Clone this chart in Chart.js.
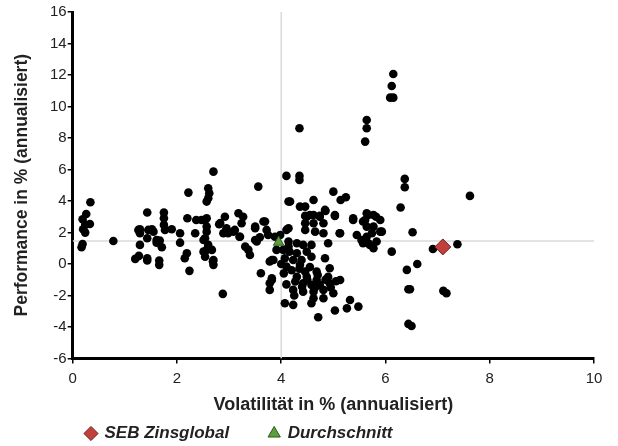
<!DOCTYPE html>
<html>
<head>
<meta charset="utf-8">
<style>
  html, body { margin: 0; padding: 0; background: #fff; }
  #wrap { width: 618px; height: 446px; }
</style>
</head>
<body>
<div id="wrap"><canvas id="myChart" width="618" height="446"></canvas></div>

<script src="https://cdn.jsdelivr.net/npm/chart.js"></script>
<script>
    // Vergleichsfonds: Volatilität / Performance (annualisiert)
    const peerVol = [
        0.34, 0.26, 0.19, 0.33, 0.24, 0.2, 0.24, 0.19, 0.17, 0.78,
        1.43, 1.29, 1.29, 1.52, 1.55, 1.43, 1.29, 1.27, 1.2, 1.43, 1.43, 1.66, 1.66, 1.75, 1.75, 1.75, 1.77, 1.67, 1.71, 1.61, 1.9, 1.45, 1.61, 1.26,
        2.06, 2.06, 2.22, 2.2, 2.35, 2.19, 2.15, 2.24, 2.37, 2.47,
        2.7, 2.6, 2.62, 2.6, 2.57, 2.54, 2.57, 2.57, 2.54, 2.6, 2.57, 2.67, 2.54, 2.7, 2.7, 2.51, 2.51, 2.69, 2.57,
        2.83, 2.92, 2.95, 2.98, 3.11, 3.18, 3.27, 3.24, 3.2, 3.31, 3.37, 3.4, 3.5, 3.5, 2.89, 2.88, 3.08, 3.21, 2.81, 3.5,
        3.56, 3.66, 3.72, 3.75, 3.59, 3.82, 3.61, 3.82, 3.78, 3.78, 3.91, 3.53, 3.69, 3.78, 3.85, 3.98, 3.88, 3.82,
        4.1, 4.14, 4.1, 4.14, 4.35, 4.35, 4.35, 4.17, 4.36, 4.46, 4.46, 4.14, 4.14, 4.3, 4.42, 4.04, 4.16, 4.3, 4.49, 4.07, 4.23, 4.39, 4.1, 4.36, 4.46, 4.3, 4.49, 4.27, 4.42, 4.23, 4.42, 4.07, 4.23, 4.46, 4.46, 4.49,
        4.55, 4.74, 4.84, 4.62, 4.62, 4.74, 4.62, 4.81, 4.65, 4.81, 4.58, 4.9, 4.58, 4.84, 4.68, 4.93, 4.68, 4.9, 4.58, 4.74, 4.93, 4.62, 4.81, 4.62, 4.81, 4.58, 4.71, 4.85, 5.0,
        4.2, 4.55, 4.4, 4.65, 4.85, 4.1, 4.05, 4.25, 4.95, 5.05, 4.5, 4.7, 4.35, 4.0,
        5.0, 5.14, 5.24, 5.03, 5.03, 5.38, 5.38, 5.13, 5.45, 5.13, 5.32, 5.26, 5.48, 5.03, 5.12,
        5.64, 5.64, 5.61, 5.64, 5.57, 5.64, 5.67, 5.77, 5.61, 5.9, 5.64, 5.74, 5.9, 5.54, 5.67, 5.77, 5.83, 5.82, 5.77, 5.93, 5.57, 5.7,
        6.15, 6.12, 6.09, 6.15, 6.37, 6.37, 6.29, 7.62, 6.52, 6.12, 6.91, 7.38, 6.61, 6.41, 6.47, 6.44, 7.11, 7.17, 6.44, 6.5
    ];
    const peerPerf = [
        3.92, 3.17, 2.84, 2.54, 2.48, 2.2, 1.99, 1.27, 1.06, 1.46,
        3.27, 2.2, 1.95, 2.2, 2.05, 1.63, 1.21, 0.51, 0.32, 0.36, 0.22, 0.21, -0.06, 3.26, 2.9, 2.48, 2.16, 1.48, 1.06, 1.35, 2.2, 2.16, 1.52, 2.16,
        1.95, 1.35, 4.53, 2.9, 1.95, 0.68, 0.36, -0.44, 2.79, 2.79,
        5.86, 4.81, 4.49, 4.17, 3.96, 2.79, 2.37, 2.05, 1.63, 1.21, 0.89, 0.89, 0.46, 0.25, -0.06, 1.52, 0.78, 0.15, 2.9,
        2.6, 3.0, 2.27, 1.95, 2.16, 3.22, 3.0, 2.58, 1.73, 1.1, 0.89, 0.57, 2.27, 1.52, 1.95, -1.9, 2.05, 1.73, 2.52, 2.37,
        4.91, 2.69, 2.16, 1.84, 1.69, 0.25, -0.59, -0.91, -1.23, -1.65, 0.89, 1.42, 2.69, 0.15, 0.25, 1.84, 1.73, -1.02,
        5.59, 3.96, 2.16, 1.1, 8.62, 5.59, 5.33, 3.96, 3.64, 3.64, 3.05, 2.27, 1.42, 1.31, 1.21, 0.89, 0.78, 0.68, 0.78, 0.36, 0.25, 0.25, -0.17, -0.06, -0.49, -0.81, -0.81, -1.12, -1.23, -1.65, -1.76, -2.5, -2.6, 2.58, 2.16, 3.0,
        3.11, 3.05, 3.43, 4.06, 3.11, 3.0, 2.58, 2.58, 2.05, 1.95, 1.21, 1.31, 0.46, 0.36, -0.49, -0.27, -1.02, -0.81, -1.33, -1.33, -1.23, -1.76, -1.65, -2.18, -2.18, -2.5, -3.39, 3.37, -1.86,
        -0.4, -0.2, -1.45, -1.5, -1.0, -1.3, -0.6, -2.0, -1.5, -1.1, -1.0, -0.7, -0.3, 0.0,
        4.59, 4.06, 4.23, 3.05, 3.11, 2.9, 2.79, 1.95, 1.84, -1.02, -2.29, -2.82, -2.71, -2.96, 1.95,
        9.14, 8.62, 7.77, 3.22, 2.69, 1.73, 3.11, 3.11, 2.79, 2.79, 2.37, 1.95, 2.05, 1.52, 1.31, 1.0, 1.42, 3.0, 2.37, 2.05, 1.31, 1.21,
        12.06, 11.3, 10.56, 10.56, 5.4, 4.87, 3.58, 4.32, 2.01, 0.78, 0.95, 1.25, 0.0, -0.38, -1.61, -1.61, -1.71, -1.86, -3.81, -3.94
    ];

    const fundName = 'SEB Zinsglobal';
    const fundVol = [7.1];
    const fundPerf = [1.08];

    const avgName = 'Durchschnitt';
    const avgVol = [3.95];
    const avgPerf = [1.38];

    // Fadenkreuz
    const crossVol = 4;
    const crossPerf = 1.45;

    const xTicks = [0, 2, 4, 6, 8, 10];
    const yTicks = [-6, -4, -2, 0, 2, 4, 6, 8, 10, 12, 14, 16];

    function toPoints(xs, ys) {
        var pts = [];
        for (var i = 0; i < xs.length; i++) {
            pts.push({ x: xs[i], y: ys[i] });
        }
        return pts;
    }

    const font = '"Liberation Sans", Arial, Helvetica, sans-serif';

    const ctx = document.getElementById('myChart');

    new Chart(ctx, {
        type: 'scatter',
        data: {
            datasets: [{
                label: fundName,
                data: toPoints(fundVol, fundPerf),
                pointStyle: 'rectRot',
                pointRadius: 8,
                backgroundColor: '#c0403c',
                borderColor: '#6e1f1c',
                borderWidth: 1,
                order: 0
            }, {
                label: avgName,
                data: toPoints(avgVol, avgPerf),
                pointStyle: 'triangle',
                pointRadius: 6,
                backgroundColor: '#5c9e3c',
                borderColor: '#2d5a1c',
                borderWidth: 1,
                order: 1
            }, {
                label: 'Fonds',
                data: toPoints(peerVol, peerPerf),
                pointRadius: 4.3,
                backgroundColor: '#000',
                borderWidth: 0,
                order: 5
            }, {
                label: 'v',
                data: [{ x: crossVol, y: yTicks[0] }, { x: crossVol, y: yTicks[yTicks.length - 1] }],
                showLine: true,
                pointRadius: 0,
                borderColor: '#dadada',
                borderWidth: 1.5,
                order: 10
            }, {
                label: 'h',
                data: [{ x: xTicks[0], y: crossPerf }, { x: xTicks[xTicks.length - 1], y: crossPerf }],
                showLine: true,
                pointRadius: 0,
                borderColor: '#dadada',
                borderWidth: 1.5,
                order: 10
            }]
        },
        options: {
            responsive: false,
            animation: false,
            layout: {
                padding: { left: 46, right: 24, top: 12, bottom: -6 }
            },
            scales: {
                x: {
                    min: xTicks[0],
                    max: xTicks[xTicks.length - 1],
                    ticks: { stepSize: 2, color: '#222', font: { family: font, size: 15 }, padding: 6 },
                    grid: { drawOnChartArea: false, drawTicks: true, tickLength: 5, color: '#000', lineWidth: 1.5 },
                    border: { display: true, color: '#000', width: 3 },
                    title: {
                        display: true,
                        text: 'Volatilität in % (annualisiert)',
                        color: '#222',
                        font: { family: font, size: 18, weight: 'bold' },
                        padding: { top: 1, bottom: -31 }
                    }
                },
                y: {
                    min: yTicks[0],
                    max: yTicks[yTicks.length - 1],
                    ticks: { stepSize: 2, color: '#222', font: { family: font, size: 15 }, padding: 1 },
                    grid: { drawOnChartArea: false, drawTicks: true, tickLength: 5, color: '#000', lineWidth: 1.5 },
                    border: { display: true, color: '#000', width: 3 },
                    title: {
                        display: true,
                        text: 'Performance in % (annualisiert)',
                        color: '#222',
                        font: { family: font, size: 17.5, weight: 'bold' },
                        padding: { top: -34, bottom: 16 }
                    }
                }
            },
            plugins: {
                tooltip: { enabled: false },
                legend: {
                    position: 'bottom',
                    align: 'start',
                    labels: {
                        usePointStyle: true,
                        boxWidth: 10,
                        boxHeight: 10,
                        padding: 40,
                        color: '#222',
                        font: { family: font, size: 17, weight: 'bold', style: 'italic' },
                        filter: function (item) {
                            return item.datasetIndex < 2;
                        }
                    }
                }
            }
        }
    });
</script>
</body>
</html>
